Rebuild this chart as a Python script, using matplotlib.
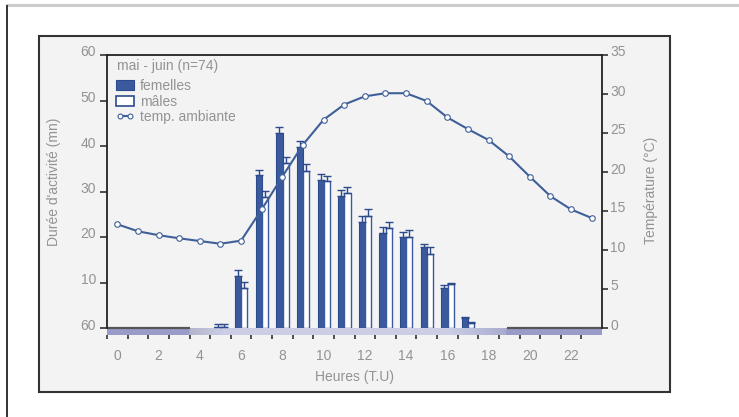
import numpy as np
import matplotlib
matplotlib.use("Agg")
import matplotlib.pyplot as plt
from matplotlib.patches import Rectangle, Patch
from matplotlib.lines import Line2D
import matplotlib.transforms as mtransforms

# ---------------- data ----------------
hours = list(range(24))
females = [0, 0, 0, 0, 0, 0.2, 11.4, 33.6, 42.8, 39.7, 32.5, 29.0,
           23.4, 20.9, 19.9, 17.7, 8.9, 2.2, 0, 0, 0, 0, 0, 0]
females_err = [0, 0, 0, 0, 0, 0.7, 1.3, 1.2, 1.3, 1.5, 1.3, 1.3,
               1.3, 1.3, 1.2, 0.7, 0.5, 0.2, 0, 0, 0, 0, 0, 0]
males = [0, 0, 0, 0, 0, 0.2, 8.9, 28.9, 36.3, 34.6, 32.2, 29.7,
         24.7, 21.9, 20.1, 16.3, 9.7, 1.1, 0, 0, 0, 0, 0, 0]
males_err = [0, 0, 0, 0, 0, 0.7, 1.3, 1.3, 1.3, 1.4, 1.2, 1.3,
             1.4, 1.4, 1.4, 1.4, 0.2, 0.2, 0, 0, 0, 0, 0, 0]
temperature = [13.3, 12.4, 11.9, 11.5, 11.15, 10.8, 11.2, 15.2, 19.4, 23.5,
               26.7, 28.65, 29.7, 30.1, 30.1, 29.1, 27.0, 25.5, 24.1, 22.0,
               19.4, 16.9, 15.2, 14.1]
xtick_labels = [str(h) for h in range(0, 24, 2)]
left_ticks = [0, 10, 20, 30, 40, 50, 60]
left_tick_labels = ["60", "10", "20", "30", "40", "50", "60"]
right_ticks = [0, 5, 10, 15, 20, 25, 30, 35]
# day / night band boundaries (hours)
night_end, dawn_end, dusk_start, night_start = 4.0, 5.7, 16.5, 19.4

# ---------------- style ----------------
W, H = 739, 417
TXT = "#939393"
FEM = "#3b5a9e"
FEM_EDGE = "#2c4a8c"
LINE = "#3f5f98"
plt.rcParams['font.family'] = ['Liberation Sans', 'DejaVu Sans']
plt.rcParams['font.size'] = 10

fig = plt.figure(figsize=(W / 100, H / 100), dpi=100)
fig.patch.set_facecolor("white")

def px(x, y):
    return x / W, 1 - y / H

# decorations of the page
fig.add_artist(Line2D([7 / W, 1], [1 - 5 / H] * 2, color="#cccccc", lw=2.2,
                      transform=fig.transFigure))
fig.add_artist(Line2D([7 / W] * 2, [0, 1 - 6 / H], color="#333333", lw=1.4,
                      transform=fig.transFigure))
x0, y0 = px(39, 392)
x1, y1 = px(670, 36)
fig.add_artist(Rectangle((x0, y0), x1 - x0, y1 - y0, transform=fig.transFigure,
                         facecolor="#f3f3f3", edgecolor="#333333", lw=1.5, zorder=0))

L, R, T, B = 107, 602, 55, 328
ax = fig.add_axes([L / W, 1 - B / H, (R - L) / W, (B - T) / H])
ax.set_facecolor("none")
ax.set_zorder(2)

xh = np.array(hours, dtype=float)
fv = np.array(females); fe = np.array(females_err)
mv = np.array(males); me = np.array(males_err)
fm = fv > 0
mm = mv > 0
bw = 0.30
ax.bar(xh[fm] + 0.36, fv[fm], width=bw, color=FEM, edgecolor=FEM_EDGE, lw=0.8, zorder=3)
ax.bar(xh[mm] + 0.66, mv[mm], width=bw, color="white", edgecolor=FEM, lw=1.0, zorder=3)
ax.errorbar(xh[fm] + 0.36, fv[fm], yerr=[np.zeros(fm.sum()), fe[fm]], fmt="none",
            ecolor=FEM_EDGE, elinewidth=1.0, capsize=2.6, capthick=1.0, zorder=4)
ax.errorbar(xh[mm] + 0.66, mv[mm], yerr=[np.zeros(mm.sum()), me[mm]], fmt="none",
            ecolor=FEM_EDGE, elinewidth=1.0, capsize=2.6, capthick=1.0, zorder=4)

# day/night band under the axis
xs = np.linspace(0, 24, 481)
N = np.array([0.60, 0.61, 0.79])
D = np.array([0.80, 0.81, 0.90])
Dawn = np.array([0.70, 0.71, 0.79])
Dusk = np.array([0.66, 0.67, 0.81])
cols = []
for x in xs:
    if x < night_end or x >= night_start:
        c = N
    elif x < dawn_end:
        t = (x - night_end) / (dawn_end - night_end)
        c = Dawn * (1 - t) + D * t
    elif x < dusk_start:
        c = D
    else:
        t = (x - dusk_start) / (night_start - dusk_start)
        c = D * (1 - t) + Dusk * t
    cols.append(c)
img = np.array(cols)[None, :, :]
band_h = 7 * 60 / (B - T)
im = ax.imshow(img, extent=[0, 24, -band_h, 0], aspect="auto", zorder=1,
               interpolation="bilinear")
im.set_clip_on(False)
for a, b in [(0, night_end), (night_start, 24)]:
    ax.plot([a, b], [0, 0], color="#555555", lw=1.6, solid_capstyle="butt",
            clip_on=False, zorder=2)

ax.set_xlim(0, 24)
ax.set_ylim(0, 60)

# x axis
ax.spines["bottom"].set_position(("outward", 7 * 0.72))
ax.spines["bottom"].set_visible(False)
ax.set_xticks(hours)
ax.set_xticklabels([])
ax.set_xticks([h + 0.5 for h in range(0, 24, 2)], minor=True)
ax.set_xticklabels(xtick_labels, minor=True)
ax.tick_params(axis="x", which="major", direction="out", length=3.2, width=1.1,
               color="#222222")
ax.tick_params(axis="x", which="minor", length=0, pad=10, labelcolor=TXT, labelsize=10)
ax.set_xlabel("Heures (T.U)", color=TXT, fontsize=10, labelpad=5)

# left axis
ax.spines["top"].set_color("#222222")
ax.spines["top"].set_linewidth(1.3)
ax.spines["left"].set_color("#222222")
ax.spines["left"].set_linewidth(1.3)
ax.spines["right"].set_visible(False)
ax.set_yticks(left_ticks)
ax.set_yticklabels(left_tick_labels)
ax.tick_params(axis="y", direction="out", length=5, width=1.1, color="#222222",
               pad=3, labelcolor=TXT, labelsize=10)
ax.set_ylabel("Durée d'activité (mn)", color=TXT, fontsize=10)
ax.yaxis.set_label_coords(-0.092, 0.535)

# right axis
ax2 = ax.twinx()
ax2.set_zorder(3)
ax2.set_facecolor("none")
ax2.set_ylim(0, 35)
for s in ["top", "left", "bottom"]:
    ax2.spines[s].set_visible(False)
ax2.spines["right"].set_color("#222222")
ax2.spines["right"].set_linewidth(1.3)
ax2.set_yticks(right_ticks)
ax2.tick_params(axis="y", direction="out", length=4, width=1.1, color="#222222",
                pad=2, labelcolor=TXT, labelsize=10)
ax2.set_ylabel("Température (°C)", color=TXT, fontsize=10)
ax2.yaxis.set_label_coords(1.085, 0.505)
ax2.plot(xh + 0.5, temperature, color=LINE, lw=1.5, marker="o", markersize=4,
         markerfacecolor="white", markeredgecolor=LINE, markeredgewidth=0.8,
         zorder=5, label="temp. ambiante")

shift = mtransforms.ScaledTranslation(0, 4 / 100, fig.dpi_scale_trans)
for lab in ax.get_yticklabels() + ax2.get_yticklabels():
    lab.set_transform(lab.get_transform() + shift)

# legend
fig.text(117 / W, 1 - 66 / H, "mai - juin (n=74)", color=TXT, fontsize=10,
         ha="left", va="center")
handles = [Patch(facecolor=FEM, edgecolor=FEM_EDGE, lw=0.8),
           Patch(facecolor="white", edgecolor=FEM_EDGE, lw=1.2),
           Line2D([0], [0], color=LINE, lw=1.5, marker="o", markersize=3.5,
                  markerfacecolor="white", markeredgecolor=LINE, markeredgewidth=0.8)]
leg = ax2.legend(handles, ["femelles", "mâles", "temp. ambiante"],
                 loc="upper left", bbox_to_anchor=(116 / W, 1 - 79 / H),
                 bbox_transform=fig.transFigure, frameon=False, fontsize=10,
                 handlelength=1.3, handleheight=0.7, handletextpad=0.4,
                 labelspacing=0.12, borderpad=0, borderaxespad=0, numpoints=2)
for t in leg.get_texts():
    t.set_color(TXT)

fig.savefig("out.png", dpi=100)
